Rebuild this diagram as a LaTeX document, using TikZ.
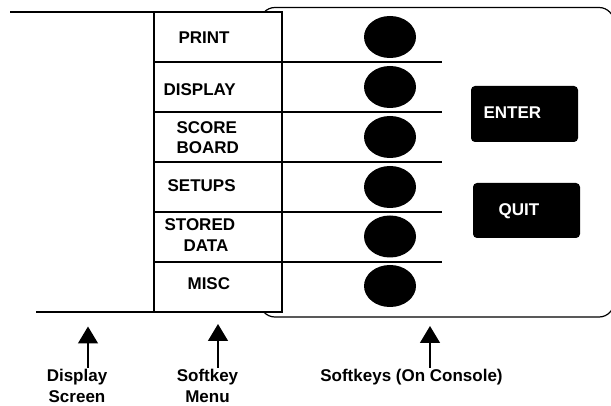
\documentclass[tikz,border=0pt]{standalone}
\usepackage{fontspec}
\setmainfont{Liberation Sans}
\usetikzlibrary{arrows.meta,shapes.geometric}

\begin{document}
\begin{tikzpicture}[x=1pt, y=-1pt, line width=1.2pt,
        every node/.style={font=\fontsize{17}{20.5}\selectfont\bfseries},
        menurow/.style={shape=rectangle,draw=black,fill=white,minimum width=128pt,minimum height=50pt,inner sep=0pt,outer sep=0pt},
        menutext/.style={anchor=west,inner sep=0pt,align=left},
        softkey/.style={shape=ellipse,fill=black,minimum width=52pt,minimum height=42pt,inner sep=0pt},
        consolekey/.style={shape=rectangle,fill=black,rounded corners=4pt,minimum width=107pt,minimum height=56pt,inner sep=0pt},
        pointer/.style={-{Triangle[length=17pt,width=20pt]},line width=1.3pt}]
    \useasboundingbox (0,0) rectangle (611,406);

    \draw[rounded corners=15pt] (260,7.5) rectangle (614,317);   % the console

    \node[menurow] (print) at (218,37) {};
    \node[menurow] (display) at (218,87) {};
    \node[menurow] (score) at (218,137) {};
    \node[menurow] (setups) at (218,187) {};
    \node[menurow] (stored) at (218,237) {};
    \node[menurow] (misc) at (218,287) {};

    \node[menutext] (printtxt) at (178,38) {PRINT};
    \node[menutext] (displaytxt) at (163,89.5) {DISPLAY};
    \node[menutext] (scoretxt) at (176,137.5) {SCORE\\BOARD};
    \node[menutext] (setupstxt) at (167,186) {SETUPS};
    \node[menutext] (storedtxt) at (164,235) {STORED\\\hspace*{19pt}DATA};
    \node[menutext] (misctxt) at (187,284) {MISC};

    \node[softkey] (key1) at (390,37) {};
    \node[softkey] (key2) at (390,87) {};
    \node[softkey] (key3) at (390,137) {};
    \node[softkey] (key4) at (390,187) {};
    \node[softkey] (key5) at (390,236.5) {};
    \node[softkey] (key6) at (390,286) {};

    \node[consolekey] (enter) at (524.5,114) {};
    \node[consolekey,minimum height=55pt] (quit) at (526.5,210.5) {};
    \node[menutext,text=white] (entertxt) at (483,112.5) {ENTER};
    \node[menutext,text=white] (quittxt) at (498,211) {QUIT};

    \coordinate (scrtop) at (10,12);
    \coordinate (scrbot) at (36,312);
    \draw (scrtop) -- (print.north west);
    \draw (scrbot) -- (misc.south west);

    \coordinate (sep1) at (442,62);
    \coordinate (sep2) at (442,112);
    \coordinate (sep3) at (442,162);
    \coordinate (sep4) at (442,212);
    \coordinate (sep5) at (442,262);
    \draw (print.south east) -- (sep1);
    \draw (display.south east) -- (sep2);
    \draw (score.south east) -- (sep3);
    \draw (setups.south east) -- (sep4);
    \draw (stored.south east) -- (sep5);

    \node[align=center,inner sep=1pt] (scrlabel) at (77,386) {Display\\Screen};
    \node[align=center,inner sep=1pt] (menulabel) at (207.5,386) {Softkey\\Menu};
    \node[inner sep=1pt] (keylabel) at (411.5,377.5) {Softkeys (On Console)};

    \coordinate (scrtip) at (88,326.5);
    \coordinate (menutip) at (218,324);
    \coordinate (keytip) at (430,326);
    \draw[pointer] (scrlabel.north -| scrtip) -- (scrtip);
    \draw[pointer] (menulabel.north -| menutip) -- (menutip);
    \draw[pointer] (keylabel.north -| keytip) -- (keytip);
\end{tikzpicture}
\end{document}
